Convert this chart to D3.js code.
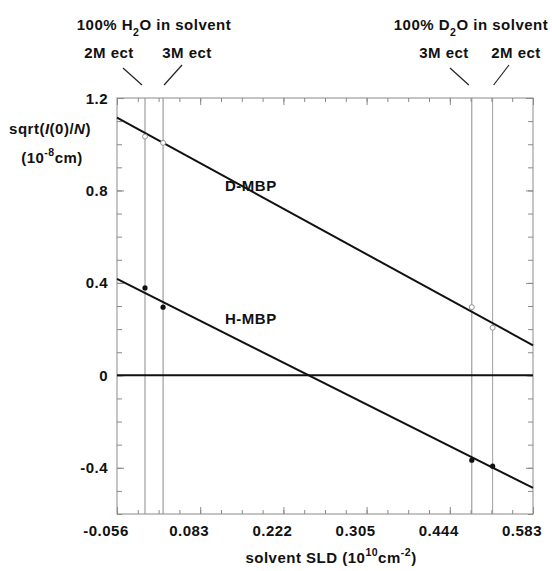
<!DOCTYPE html>
<html><head><meta charset="utf-8">
<script src="https://cdn.jsdelivr.net/npm/d3@7"></script>
<style>body{margin:0;background:#fff}svg text{font-family:"Liberation Sans",Arial,sans-serif;font-weight:bold;fill:#111;letter-spacing:0.5px}</style>
</head><body>
<script>
const xTickLabels = ["-0.056","0.083","0.222","0.305","0.444","0.583"];
const yTickValues = [-0.4, 0, 0.4, 0.8, 1.2];
const yTickLabels = ["-0.4","0","0.4","0.8","1.2"];
const solventMarks = [
  {name:"H2O 2M ect", x:-0.0130, color:"#b8b8b8", w:1.6},
  {name:"H2O 3M ect", x:0.0148, color:"#8a8a8a", w:1},
  {name:"D2O 3M ect", x:0.4890, color:"#8a8a8a", w:1},
  {name:"D2O 2M ect", x:0.5210, color:"#a0a0a0", w:1}
];
const hmbpX = [-0.0130, 0.0148, 0.4890, 0.5210];
const hmbpY = [0.378, 0.295, -0.367, -0.393];
const dmbpX = [-0.0130, 0.0148, 0.4890, 0.5210];
const dmbpY = [1.033, 1.006, 0.295, 0.206];
const dFitX = [-0.056, 0.583], dFitY = [1.115, 0.130];
const hFitX = [-0.056, 0.583], hFitY = [0.417, -0.487];

const W = 552, H = 571;
const m = {l:117, r:533, t:98, b:514};
const FS = 15;
const svg = d3.select("body").append("svg").attr("width",W).attr("height",H);
const x = d3.scaleLinear().domain([-0.056, 0.583]).range([m.l, m.r]);
const y = d3.scaleLinear().domain([-0.6, 1.2]).range([m.b, m.t]);

const majorX = d3.range(6).map(i => -0.056 + i*(0.639/5));
const minorX = d3.range(21).map(i => -0.056 + i*(0.639/20));
const minorY = d3.range(19).map(i => -0.6 + i*0.1);

const g = svg.append("g");
g.selectAll("line.sv").data(solventMarks).join("line")
  .attr("x1", d=>x(d.x)).attr("x2", d=>x(d.x)).attr("y1", m.t).attr("y2", m.b)
  .attr("stroke", d=>d.color).attr("stroke-width", d=>d.w);

g.append("rect").attr("x",m.l).attr("y",m.t).attr("width",m.r-m.l).attr("height",m.b-m.t)
  .attr("fill","none").attr("stroke","#8a8a8a").attr("stroke-width",1);

function style(sel){sel.select(".domain").remove(); sel.selectAll("line").attr("stroke","#8a8a8a");}
g.append("g").attr("transform",`translate(0,${m.b})`).call(d3.axisBottom(x).tickValues(minorX).tickSize(-4).tickFormat("")).call(style);
g.append("g").attr("transform",`translate(0,${m.t})`).call(d3.axisTop(x).tickValues(minorX).tickSize(-4).tickFormat("")).call(style);
g.append("g").attr("transform",`translate(0,${m.b})`).call(d3.axisBottom(x).tickValues(majorX).tickSize(-7).tickFormat("")).call(style);
g.append("g").attr("transform",`translate(0,${m.t})`).call(d3.axisTop(x).tickValues(majorX).tickSize(-7).tickFormat("")).call(style);
g.append("g").attr("transform",`translate(${m.l},0)`).call(d3.axisLeft(y).tickValues(minorY).tickSize(-5).tickFormat("")).call(style);
g.append("g").attr("transform",`translate(${m.r},0)`).call(d3.axisRight(y).tickValues(minorY).tickSize(-5).tickFormat("")).call(style);
g.append("g").attr("transform",`translate(${m.l},0)`).call(d3.axisLeft(y).tickValues(yTickValues).tickSize(-7).tickFormat("")).call(style);
g.append("g").attr("transform",`translate(${m.r},0)`).call(d3.axisRight(y).tickValues(yTickValues).tickSize(-7).tickFormat("")).call(style);

svg.selectAll("text.xl").data(majorX).join("text")
  .attr("x", d=>x(d)-11).attr("y", m.b+22).attr("text-anchor","middle").attr("font-size",FS)
  .text((d,i)=>xTickLabels[i]);
svg.selectAll("text.yl").data(yTickValues).join("text")
  .attr("x", m.l-9).attr("y", d=>y(d)+5.5).attr("text-anchor","end").attr("font-size",FS)
  .text((d,i)=>yTickLabels[i]);

g.append("line").attr("x1",x(-0.056)).attr("x2",x(0.583)).attr("y1",y(0)).attr("y2",y(0))
  .attr("stroke","#111").attr("stroke-width",2);

const line = d3.line().x(d=>x(d[0])).y(d=>y(d[1]));
g.append("path").attr("d", line(d3.zip(dFitX,dFitY))).attr("stroke","#111").attr("stroke-width",2).attr("fill","none");
g.append("path").attr("d", line(d3.zip(hFitX,hFitY))).attr("stroke","#111").attr("stroke-width",2).attr("fill","none");

g.selectAll("circle.h").data(d3.zip(hmbpX,hmbpY)).join("circle")
  .attr("cx",d=>x(d[0])).attr("cy",d=>y(d[1])).attr("r",2.6).attr("fill","#111");
g.selectAll("circle.d").data(d3.zip(dmbpX,dmbpY)).join("circle")
  .attr("cx",d=>x(d[0])).attr("cy",d=>y(d[1])).attr("r",2.5).attr("fill","#fff").attr("stroke","#888").attr("stroke-width",0.9);

svg.append("text").attr("x",225).attr("y",191).attr("font-size",FS).text("D-MBP");
svg.append("text").attr("x",225).attr("y",324).attr("font-size",FS).text("H-MBP");

const yt = svg.append("text").attr("x",50).attr("y",134).attr("text-anchor","middle").attr("font-size",FS);
yt.append("tspan").text("sqrt(");
yt.append("tspan").attr("font-style","italic").text("I");
yt.append("tspan").text("(0)/");
yt.append("tspan").attr("font-style","italic").text("N");
yt.append("tspan").text(")");
const yt2 = svg.append("text").attr("x",52).attr("y",163).attr("text-anchor","middle").attr("font-size",FS);
yt2.append("tspan").text("(10");
yt2.append("tspan").attr("font-size",10.5).attr("dy",-7).text("-8");
yt2.append("tspan").attr("dy",7).text("cm)");

const xt = svg.append("text").attr("x",331).attr("y",563).attr("text-anchor","middle").attr("font-size",FS);
xt.append("tspan").text("solvent SLD (10");
xt.append("tspan").attr("font-size",10.5).attr("dy",-7).text("10");
xt.append("tspan").attr("dy",7).text("cm");
xt.append("tspan").attr("font-size",10.5).attr("dy",-7).text("-2");
xt.append("tspan").attr("dy",7).text(")");

function solventTitle(cx, letter){
  const t = svg.append("text").attr("x",cx).attr("y",30).attr("text-anchor","middle").attr("font-size",FS);
  t.append("tspan").text("100% "+letter);
  t.append("tspan").attr("font-size",10.5).attr("dy",6).text("2");
  t.append("tspan").attr("dy",-6).text("O in solvent");
}
solventTitle(154,"H");
solventTitle(471,"D");
const ann = [
  {t:"2M ect", cx:109, x1:123, y1:68, sx:0},
  {t:"3M ect", cx:187, x1:182, y1:65, sx:1},
  {t:"3M ect", cx:444, x1:450, y1:68, sx:2},
  {t:"2M ect", cx:516, x1:509, y1:65, sx:3}
];
svg.selectAll("text.an").data(ann).join("text")
  .attr("x",d=>d.cx).attr("y",58).attr("text-anchor","middle").attr("font-size",FS).text(d=>d.t);
svg.selectAll("line.an").data(ann).join("line")
  .attr("x1",d=>d.x1).attr("y1",d=>d.y1).attr("x2",d=>x(solventMarks[d.sx].x)-(d.sx%2===0?3:-1)).attr("y2",85)
  .attr("stroke","#222").attr("stroke-width",1.2);
</script>
</body></html>
